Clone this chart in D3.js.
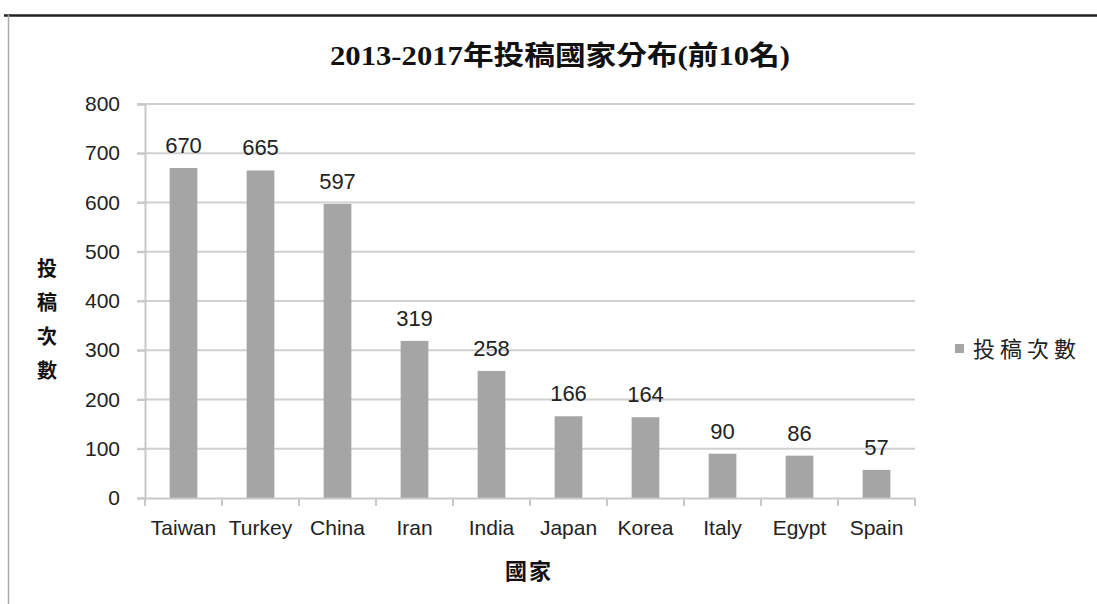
<!DOCTYPE html>
<html><head><meta charset="utf-8">
<script src="https://cdn.jsdelivr.net/npm/d3@7"></script>
<style>body{margin:0;background:#fff}svg{display:block}</style>
</head><body>
<svg id="c" width="1097" height="604"></svg>
<script>
const categories = ["Taiwan","Turkey","China","Iran","India","Japan","Korea","Italy","Egypt","Spain"];
const values = [670,665,597,319,258,166,164,90,86,57];
const yTicks = [0,100,200,300,400,500,600,700,800];
const chartTitle = "2013-2017年投稿國家分布(前10名)";
const yTitle = "投稿次數";
const xTitle = "國家";
const seriesName = "投稿次數";

const svg = d3.select("#c");
const m = {left:145, right:915, top:104, bottom:498};
const x = d3.scaleBand().domain(categories).range([m.left, m.right]).paddingInner(0.64).paddingOuter(0.32);
const xb = d3.scaleBand().domain(categories).range([m.left, m.right]);
const y = d3.scaleLinear().domain([0,800]).range([m.bottom, m.top]);

const sans = "'Liberation Sans', Arial, sans-serif";
const cjk = "'Liberation Serif','Noto Sans CJK TC', serif";

// frame
svg.append("line").attr("x1",4).attr("x2",1097).attr("y1",15.5).attr("y2",15.5).attr("stroke","#222").attr("stroke-width",2.5);
svg.append("line").attr("x1",8.5).attr("x2",8.5).attr("y1",15).attr("y2",604).attr("stroke","#aaa").attr("stroke-width",1.5);

// gridlines
svg.append("g").selectAll("line").data(yTicks.filter(d=>d>0)).join("line")
  .attr("x1",m.left-8).attr("x2",m.right).attr("y1",d=>y(d)).attr("y2",d=>y(d))
  .attr("stroke","#d0d0d0").attr("stroke-width",2);

// y axis
const ya = svg.append("g").attr("transform",`translate(${m.left},0)`)
  .call(d3.axisLeft(y).tickValues(yTicks).tickSize(8).tickPadding(17));
ya.select(".domain").attr("stroke","#c8c8c8").attr("stroke-width",2);
ya.selectAll(".tick line").attr("stroke","#c8c8c8").attr("stroke-width",2);
ya.selectAll("text").attr("font-family",sans).attr("font-size",21).attr("fill","#222");

// bars
svg.append("g").selectAll("rect").data(values).join("rect")
  .attr("x",(d,i)=>x(categories[i])).attr("width",x.bandwidth())
  .attr("y",d=>y(d)).attr("height",d=>y(0)-y(d)).attr("fill","#a5a5a5");

// x axis
const xa = svg.append("g").attr("transform",`translate(0,${m.bottom})`)
  .call(d3.axisBottom(xb).tickSize(0).tickPadding(22));
xa.select(".domain").attr("stroke","#c8c8c8").attr("stroke-width",2);
xa.selectAll("text").attr("font-family",sans).attr("font-size",21).attr("fill","#222");
svg.append("g").selectAll("line").data(categories.concat(["end"])).join("line")
  .attr("x1",(d,i)=>m.left + i*xb.step()).attr("x2",(d,i)=>m.left + i*xb.step())
  .attr("y1",m.bottom).attr("y2",m.bottom+8).attr("stroke","#c8c8c8").attr("stroke-width",2);

// data labels
svg.append("g").selectAll("text").data(values).join("text")
  .attr("x",(d,i)=>x(categories[i])+x.bandwidth()/2).attr("y",d=>y(d)-15)
  .attr("text-anchor","middle").attr("font-family",sans).attr("font-size",22).attr("fill","#222")
  .text(d=>d);

// title
svg.append("text").attr("x",560).attr("y",65).attr("text-anchor","middle")
  .attr("font-family",cjk).attr("font-weight","bold").attr("font-size",27)
  .attr("textLength",460).attr("lengthAdjust","spacingAndGlyphs").attr("fill","#111")
  .text(chartTitle);

// y title (stacked)
svg.append("g").selectAll("text").data(yTitle.split("")).join("text")
  .attr("x",47).attr("y",(d,i)=>276 + i*34).attr("text-anchor","middle")
  .attr("font-family",cjk).attr("font-weight","bold").attr("font-size",20).attr("fill","#111")
  .text(d=>d);

// x title
svg.append("text").attr("x",529).attr("y",579).attr("text-anchor","middle")
  .attr("font-family",cjk).attr("font-weight","bold").attr("font-size",22).attr("fill","#111")
  .attr("letter-spacing",2).text(xTitle);

// legend
svg.append("rect").attr("x",955).attr("y",344).attr("width",9).attr("height",9).attr("fill","#a5a5a5");
svg.append("text").attr("x",973).attr("y",357).attr("font-family",cjk).attr("font-size",22).attr("fill","#222")
  .attr("letter-spacing",5).text(seriesName);
</script>
</body></html>
